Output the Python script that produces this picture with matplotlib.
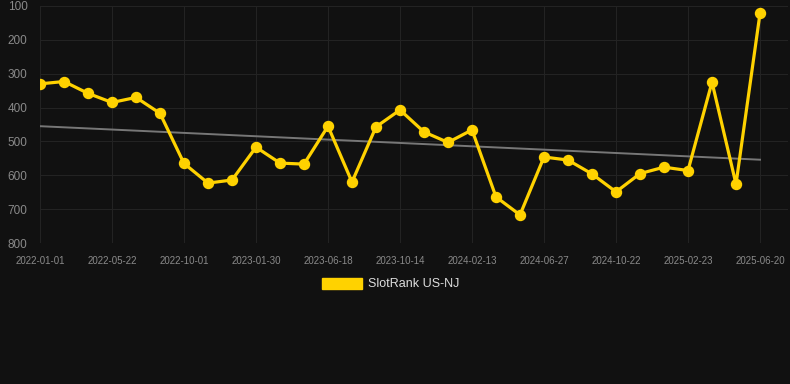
import matplotlib
matplotlib.use('Agg')
import matplotlib.pyplot as plt
from matplotlib.patches import Rectangle

# rank values (lower rank = better, axis inverted)
ranks = [330, 323, 358, 385, 370, 417, 565, 623, 614, 517,
         564, 567, 455, 620, 457, 407, 472, 503, 466, 664,
         717, 546, 555, 596, 649, 595, 576, 586, 325, 626, 122]

# dates shown under every third point
tick_labels = ['2022-01-01', '2022-05-22', '2022-10-01', '2023-01-30',
               '2023-06-18', '2023-10-14', '2024-02-13', '2024-06-27',
               '2024-10-22', '2025-02-23', '2025-06-20']

# trend line start / end values
trend = [455, 554]

bg = '#111111'
gold = '#FFD200'

fig = plt.figure(figsize=(7.9, 3.84), dpi=100, facecolor=bg)
ax = fig.add_axes([40 / 790, 1 - 243 / 384, 748 / 790, 237 / 384])
ax.set_facecolor(bg)

x = list(range(len(ranks)))
ax.plot([x[0], x[-1]], trend, color='#777777', lw=1.4, zorder=2)
ax.plot(x, ranks, color=gold, lw=2.3, marker='o', markersize=7.2, zorder=3)

ax.set_ylim(800, 100)
ax.set_xlim(0, 30 + 28 / 24)
ax.set_yticks([100, 200, 300, 400, 500, 600, 700, 800])
ax.set_xticks(x[::3])
ax.set_xticklabels(tick_labels)

ax.grid(True, color='#232323', lw=0.8)
ax.tick_params(axis='both', length=0, colors='#8a8a8a')
ax.tick_params(axis='y', labelsize=8.5, pad=9)
ax.tick_params(axis='x', labelsize=7, pad=9)
for s in ax.spines.values():
    s.set_visible(False)
for lab in ax.get_yticklabels():
    lab.set_fontfamily('Liberation Sans')
for lab in ax.get_xticklabels():
    lab.set_fontfamily('Liberation Sans')

handle = Rectangle((0, 0), 1, 1, color=gold)
leg = fig.legend([handle], ['SlotRank US-NJ'], loc='center',
                 bbox_to_anchor=(391 / 790, 1 - 284 / 384),
                 frameon=False, handlelength=3.2, handleheight=1.0,
                 handletextpad=0.5, prop={'family': 'Liberation Sans', 'size': 9})
for t in leg.get_texts():
    t.set_color('#dddddd')

fig.savefig('out.png', dpi=100, facecolor=bg)
